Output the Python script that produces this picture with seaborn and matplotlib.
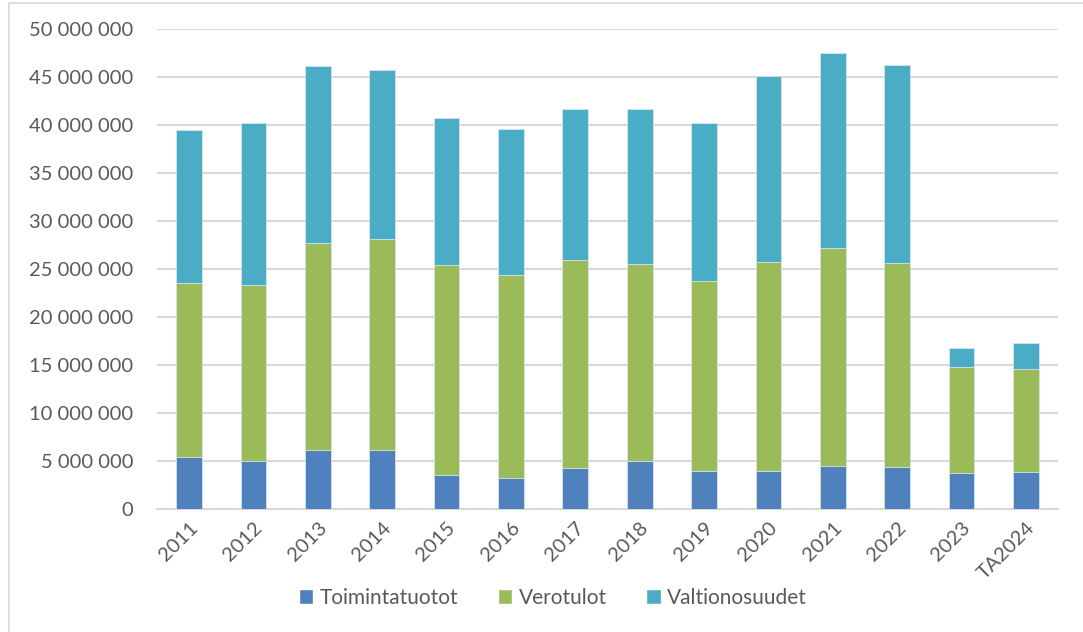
import matplotlib.pyplot as plt
import matplotlib.patches as patches
from matplotlib.ticker import FuncFormatter
import numpy as np
import pandas as pd
import seaborn as sns

years = ['2011', '2012', '2013', '2014', '2015', '2016', '2017', '2018',
         '2019', '2020', '2021', '2022', '2023', 'TA2024']
# values in euros
toimintatuotot = [5.39e6, 5.03e6, 6.18e6, 6.18e6, 3.51e6, 3.26e6, 4.24e6,
                  5.03e6, 3.92e6, 3.92e6, 4.51e6, 4.41e6, 3.72e6, 3.89e6]
verotulot = [18.11e6, 18.34e6, 21.49e6, 21.92e6, 21.94e6, 21.08e6, 21.66e6,
             20.47e6, 19.78e6, 21.78e6, 22.64e6, 21.25e6, 11.04e6, 10.66e6]
valtionosuudet = [16.0e6, 16.87e6, 18.43e6, 17.6e6, 15.25e6, 15.21e6, 15.77e6,
                  16.17e6, 16.54e6, 19.4e6, 20.31e6, 20.59e6, 2.01e6, 2.75e6]

series = ['Toimintatuotot', 'Verotulot', 'Valtionosuudet']
colors = ['#4F81BD', '#9BBB59', '#4BACC6']

df = pd.DataFrame({'vuosi': years, 'Toimintatuotot': toimintatuotot,
                   'Verotulot': verotulot, 'Valtionosuudet': valtionosuudet})
# cumulative tops for stacking
df['c1'] = df['Toimintatuotot']
df['c2'] = df['c1'] + df['Verotulot']
df['c3'] = df['c2'] + df['Valtionosuudet']

sns.set_style('white')
plt.rcParams['font.family'] = ['Lato', 'DejaVu Sans']

fig = plt.figure(figsize=(10.83, 6.32), dpi=100)
ax = fig.add_axes([157 / 1083, 1 - 509 / 632, (1058 - 157) / 1083, (509 - 29) / 632])

# draw from the top of the stack down so each layer covers the one above
for col, c in zip(['c3', 'c2', 'c1'], colors[::-1]):
    sns.barplot(data=df, x='vuosi', y=col, color=c, width=0.4, ax=ax,
                edgecolor='#D6E6EE', linewidth=0.6, saturation=1, zorder=3)

ax.set_ylim(0, 50e6)
ax.set_yticks(np.arange(0, 50e6 + 1, 5e6))
ax.yaxis.set_major_formatter(FuncFormatter(lambda v, p: f'{int(v):,}'.replace(',', ' ')))
ax.grid(axis='y', color='#D9D9D9', linewidth=1.5, zorder=0)
ax.set_axisbelow(True)
for s in ['top', 'right', 'left']:
    ax.spines[s].set_visible(False)
ax.spines['bottom'].set_color('#D9D9D9')
ax.spines['bottom'].set_linewidth(1.5)
ax.set_xlabel('')
ax.set_ylabel('')
ax.tick_params(axis='both', length=0, labelsize=14.5, labelcolor='#595959')
ax.tick_params(axis='y', pad=17)
ax.tick_params(axis='x', pad=7)
plt.setp(ax.get_xticklabels(), rotation=45, ha='right', rotation_mode='anchor')

handles = [patches.Patch(facecolor=c, label=s) for s, c in zip(series, colors)]
fig.legend(handles=handles, loc='center', bbox_to_anchor=(553 / 1083, 1 - 598 / 632),
           ncol=3, frameon=False, fontsize=15, handlelength=0.7, handleheight=0.7,
           handletextpad=0.3, columnspacing=1.9, labelcolor='#595959')

# chart area border
fig.patches.append(patches.Rectangle((9 / 1083, -0.01), 1.1, 1 - 3 / 632 + 0.01,
                                     transform=fig.transFigure, fill=False,
                                     edgecolor='#D9D9D9', linewidth=1.2))

fig.savefig('out.png', dpi=100)
